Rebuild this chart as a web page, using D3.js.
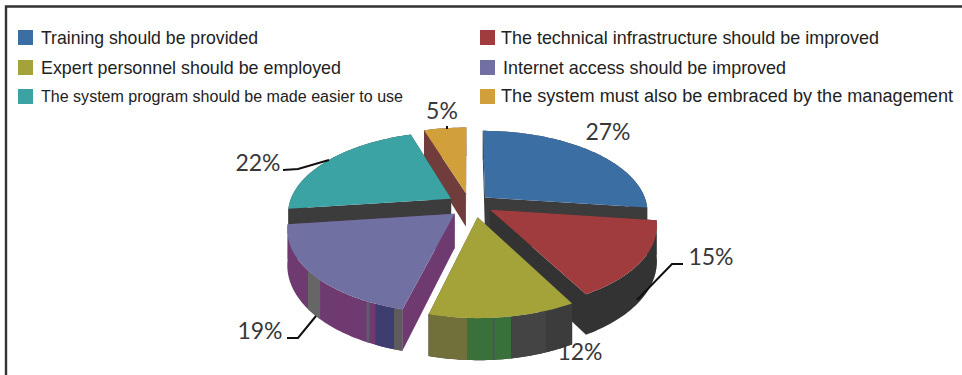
<!DOCTYPE html>
<html><head><meta charset="utf-8">
<script src="https://cdn.jsdelivr.net/npm/d3@7/dist/d3.min.js"></script>
<style>html,body{margin:0;padding:0;background:#fff}svg{display:block}</style></head>
<body><svg id="c" width="962" height="375"></svg>
<script>
const categories = ["Training should be provided","The technical infrastructure should be improved","Expert personnel should be employed","Internet access should be improved","The system program should be made easier to use","The system must also be embraced by the management"];
const values = [27,15,12,19,22,5];
const topColors = ["#3b6fa3","#a03c3d","#a3a33a","#7070a3","#3ba3a3","#d1a03b"];
const rimColors = ["#3c3c3c","#333333","#404040","#6f3a6f","#3c3c3c","#703c3c"];
const radialColors = ["#3c3c3c","#333333","#404040","#6f3a6f","#3c3c3c","#703c3c"];
const paintOrder = [5,4,0,3,1,2];
// painted stripes on the rim: slice index, from/to degrees clockwise from 12 o'clock, colour
const rimStripes = [
 [2,183,194.4,"#72703a"],[2,170.5,183,"#3a703a"],[2,175.2,175.8,"#3f5f4a"],[2,151.2,160,"#3c3c3c"],[2,160,170.5,"#444444"],
 [3,225,232,"#666666"],[3,205,206,"#5d5d6d"],[3,197,203,"#3d3d70"],[3,194.4,197,"#5c5c5c"]
];
// small per-slice position corrections for the exploded layout
const sliceNudge = [[2,-1],[5,-1],[7,2],[2,2],[0,-1],[1,-2]];
const legendFont = [19,19,19,19,16,18];
const legendWidths = [217,378,300,283,362,452];

const svg = d3.select("#c");
const cx=468, cy=205, persp=0.17, explode=0.125;
const sx = d3.scaleLinear().domain([0,1]).range([0,162]);
const sy = d3.scaleLinear().domain([0,1]).range([0,-80]);
const sz = d3.scaleLinear().domain([0,1]).range([0,34]);
const rad = d3.scaleLinear().domain([0,360]).range([0,2*Math.PI]);

function proj(theta,r,mid,z,n){
  const X=r*Math.sin(theta)+explode*Math.sin(mid), Y=r*Math.cos(theta)+explode*Math.cos(mid);
  const w=1+persp*Y;
  return [cx+n[0]+sx(X)/w, cy+n[1]+(sy(Y)+sz(z))/w];
}
const line=d3.line().curve(d3.curveLinear);
const arcAngles=(a,b)=>{const n=Math.max(2,Math.ceil(Math.abs(b-a)/0.02));return d3.range(n+1).map(i=>a+(b-a)*i/n);};
function rimPath(a,b,mid,n){
  const A=arcAngles(a,b);
  return line([...A.map(t=>proj(t,1,mid,0,n)),...A.reverse().map(t=>proj(t,1,mid,1,n))])+"Z";
}
function radialPath(t,mid,n){
  return line([proj(t,0,mid,0,n),proj(t,1,mid,0,n),proj(t,1,mid,1,n),proj(t,0,mid,1,n)])+"Z";
}
function topPath(a,b,mid,n){
  return line([proj(0,0,mid,0,n),...arcAngles(a,b).map(t=>proj(t,1,mid,0,n))])+"Z";
}

// frame
svg.append("path").attr("d","M6 375V6.5H962").attr("fill","none").attr("stroke","#333").attr("stroke-width",2.4);

// pie
const arcs=d3.pie().sort(null)(values);
const g=svg.append("g");
paintOrder.forEach(i=>{
  const d=arcs[i], mid=(d.startAngle+d.endAngle)/2, n=sliceNudge[i];
  const sl=g.append("g").attr("class","slice");
  sl.append("path").attr("d",radialPath(d.startAngle,mid,n)).attr("fill",radialColors[i]);
  sl.append("path").attr("d",radialPath(d.endAngle,mid,n)).attr("fill",radialColors[i]);
  sl.append("path").attr("d",rimPath(d.startAngle,d.endAngle,mid,n)).attr("fill",rimColors[i]);
  rimStripes.filter(s=>s[0]===i).forEach(s=>{
    sl.append("path").attr("d",rimPath(rad(s[1]),rad(s[2]),mid,n)).attr("fill",s[3]);
  });
  sl.append("path").attr("d",topPath(d.startAngle,d.endAngle,mid,n)).attr("fill",topColors[i]);
});

// leaders
const leaders=[
 [[283,170],[298,169],[329,160]],
 [[287,338],[298,338],[316,316]],
 [[683,264],[672,264],[637,300]],
 [[447,126],[447,129]]
];
svg.append("g").selectAll("path").data(leaders).join("path")
  .attr("d",d=>line(d)).attr("fill","none").attr("stroke","#111").attr("stroke-width",2);

// labels
const labelPos=[[608,132],[711,257],[580,352],[260,331],[258,163],[442,111]];
svg.append("g").selectAll("text").data(values).join("text")
  .attr("x",(d,i)=>labelPos[i][0]).attr("y",(d,i)=>labelPos[i][1]).attr("dy","0.35em")
  .attr("text-anchor","middle").attr("font-family","Lato").attr("font-size",23).attr("fill","#383838")
  .text(d=>d+"%");

// legend
const legendPos=[[18,30,41],[480,30,501],[18,60,41],[480,60,503],[18,89,41],[480,89,501]];
const lg=svg.append("g").selectAll("g").data(categories).join("g");
lg.append("rect").attr("x",(d,i)=>legendPos[i][0]).attr("y",(d,i)=>legendPos[i][1]).attr("width",15).attr("height",15).attr("fill",(d,i)=>topColors[i]);
lg.append("text").attr("x",(d,i)=>legendPos[i][2]).attr("y",(d,i)=>legendPos[i][1]+7).attr("dy","0.35em")
  .attr("font-family","Liberation Sans").attr("font-size",(d,i)=>legendFont[i]).attr("fill","#222")
  .attr("textLength",(d,i)=>legendWidths[i]).attr("lengthAdjust","spacingAndGlyphs").text(d=>d);
</script></body></html>
